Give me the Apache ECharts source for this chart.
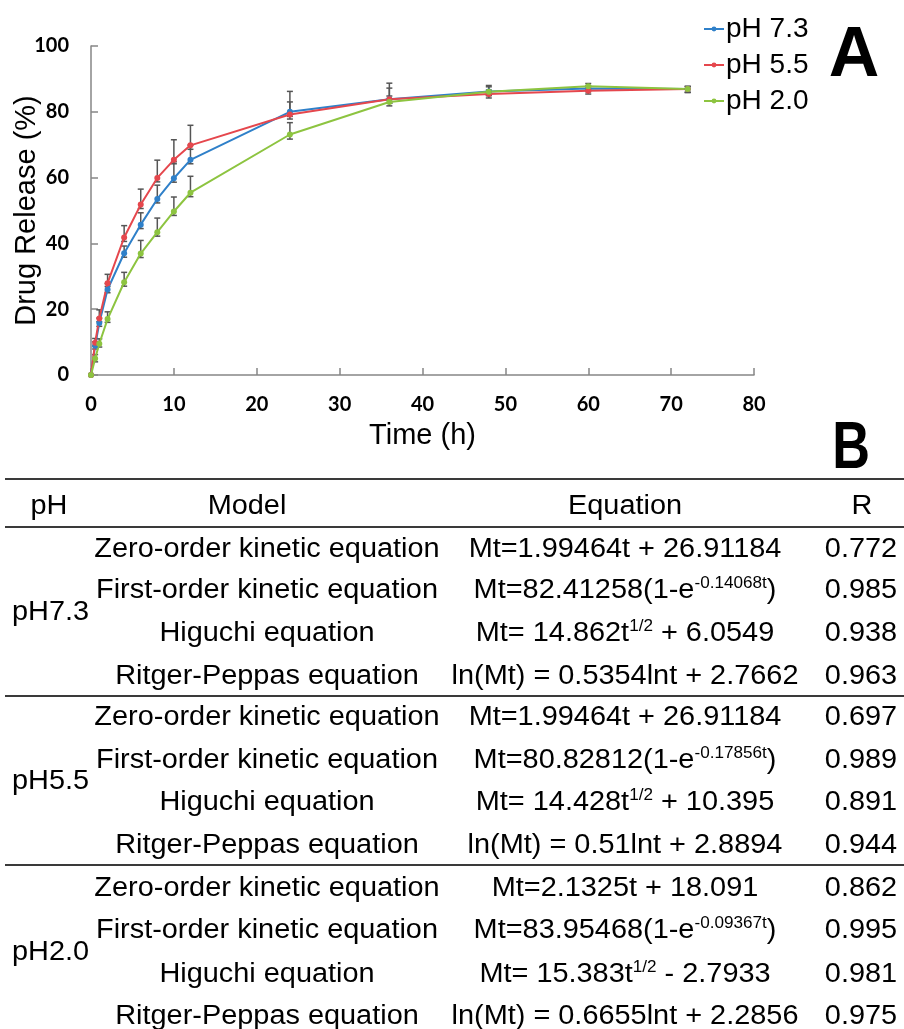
<!DOCTYPE html>
<html lang="en">
<head>
    <meta charset="UTF-8">
    <title>Drug Release</title>
    <script src="https://cdn.jsdelivr.net/npm/echarts@6/dist/echarts.min.js" type="text/javascript"></script>
    <style>
        body { margin: 0; background: #fff; }
    </style>
</head>
<body>
<div id="release" style="width: 904px;height:1029px;"></div>
</body>

<script type="text/javascript">
    // release data
    var times = [0, 0.5, 1, 2, 4, 6, 8, 10, 12, 24, 36, 48, 60, 72];
    var pH73 = [0, 8.9, 15.8, 26.0, 37.0, 45.7, 53.5, 59.8, 65.4, 80.0, 83.8, 86.2, 87.1, 86.9];
    var pH55 = [0, 9.8, 17.2, 27.9, 41.8, 51.8, 59.9, 65.4, 69.8, 79.2, 83.8, 85.4, 86.4, 86.9];
    var pH20 = [0, 5.0, 9.5, 17.0, 28.2, 36.9, 43.4, 49.7, 55.4, 73.1, 83.0, 86.1, 87.8, 86.9];
    var errUp73 = [0, 1.2, 1.5, 1.8, 2.2, 3.6, 4.2, 5.0, 4.5, 3.0, 3.4, 1.8, 0.8, 0.8];
    var errUp55 = [0, 1.3, 2.6, 2.7, 3.6, 4.7, 5.4, 6.1, 6.1, 7.0, 4.9, 1.2, 0.8, 0.8];
    var errUp20 = [0, 1.2, 1.5, 2.2, 3.0, 4.0, 4.3, 4.4, 5.0, 3.6, 1.8, 1.5, 0.8, 0.8];
    var errDown = [0, 1.0, 1.0, 1.0, 1.2, 1.2, 1.2, 1.2, 1.2, 1.4, 1.2, 1.2, 1.0, 1.0];
    var seriesNames = ['pH 7.3', 'pH 5.5', 'pH 2.0'];
    var colors = ['#2f80c9', '#e5474d', '#8dc440'];
    var xTicks = [0, 10, 20, 30, 40, 50, 60, 70, 80];
    var yTicks = [0, 20, 40, 60, 80, 100];

    // table B
    var tableHeader = ['pH', 'Model', 'Equation', 'R'];
    var groups = ['pH7.3', 'pH5.5', 'pH2.0'];
    var models = ['Zero-order kinetic equation', 'First-order kinetic equation', 'Higuchi equation', 'Ritger-Peppas equation'];
    var equations = [
        ['Mt=1.99464t + 26.91184', '{m|Mt=82.41258(1-e}{s|-0.14068t}{m|)}', '{m|Mt= 14.862t}{s|1/2}{m| + 6.0549}', 'ln(Mt) = 0.5354lnt + 2.7662'],
        ['Mt=1.99464t + 26.91184', '{m|Mt=80.82812(1-e}{s|-0.17856t}{m|)}', '{m|Mt= 14.428t}{s|1/2}{m| + 10.395}', 'ln(Mt) = 0.51lnt + 2.8894'],
        ['Mt=2.1325t + 18.091', '{m|Mt=83.95468(1-e}{s|-0.09367t}{m|)}', '{m|Mt= 15.383t}{s|1/2}{m| - 2.7933}', 'ln(Mt) = 0.6655lnt + 2.2856']
    ];
    var rValues = [
        ['0.772', '0.985', '0.938', '0.963'],
        ['0.697', '0.989', '0.891', '0.944'],
        ['0.862', '0.995', '0.981', '0.975']
    ];

    var chart = echarts.init(document.getElementById('release'));
    var font = '"Liberation Sans", Arial, sans-serif';

    function pairs(vals) {
        return times.map(function (t, i) { return [t, vals[i]]; });
    }
    function errData(vals, up) {
        return times.map(function (t, i) { return [t, vals[i] - errDown[i], vals[i] + up[i]]; });
    }
    function renderErr(params, api) {
        var top = api.coord([api.value(0), api.value(2)]);
        var bot = api.coord([api.value(0), api.value(1)]);
        var st = { stroke: '#555', lineWidth: 1.5 };
        return {
            type: 'group',
            children: [
                { type: 'line', shape: { x1: top[0], y1: top[1], x2: bot[0], y2: bot[1] }, style: st },
                { type: 'line', shape: { x1: top[0] - 3, y1: top[1], x2: top[0] + 3, y2: top[1] }, style: st },
                { type: 'line', shape: { x1: bot[0] - 3, y1: bot[1], x2: bot[0] + 3, y2: bot[1] }, style: st }
            ]
        };
    }

    // table graphics
    var tx = { pH: 12, model: 267, eq: 625, r: 861 };
    var rowY = [[549.5, 591, 633.5, 677], [717.5, 761, 803, 846], [889, 931, 975, 1017]];
    var lineY = [479, 527, 696, 865];
    var tFont = 27, sx = 1.07;
    var graphics = [];
    function txt(x, y, s, align, extra) {
        var style = { text: s, x: 0, y: 0, fill: '#000', font: tFont + 'px ' + font, align: align || 'center', verticalAlign: 'middle' };
        if (extra) { for (var k in extra) style[k] = extra[k]; }
        graphics.push({ type: 'text', x: x, y: y, scaleX: sx, style: style });
    }
    lineY.forEach(function (y) {
        graphics.push({ type: 'line', shape: { x1: 5, y1: y, x2: 904, y2: y }, style: { stroke: '#3a3a3a', lineWidth: 2 } });
    });
    txt(49, 507, tableHeader[0]);
    txt(tx.model - 20, 507, tableHeader[1]);
    txt(tx.eq, 507, tableHeader[2]);
    txt(862, 507, tableHeader[3]);
    var rich = {
        m: { fontSize: tFont, fontFamily: font, fill: '#000', lineHeight: 30 },
        s: { fontSize: 16, fontFamily: font, fill: '#000', lineHeight: 16, verticalAlign: 'top' }
    };
    groups.forEach(function (g, gi) {
        txt(tx.pH, (rowY[gi][1] + rowY[gi][2]) / 2, g, 'left');
        models.forEach(function (m, mi) {
            var y = rowY[gi][mi];
            txt(tx.model, y, m);
            var eq = equations[gi][mi];
            if (eq.charAt(0) === '{') {
                txt(tx.eq, y, eq, 'center', { rich: rich });
            } else {
                txt(tx.eq, y, eq);
            }
            txt(tx.r, y, rValues[gi][mi]);
        });
    });
    graphics.push({ type: 'text', x: 854, y: 57, style: { text: 'A', x: 0, y: 0, fill: '#000', font: 'bold 70px ' + font, align: 'center', verticalAlign: 'middle' } });
    graphics.push({ type: 'text', x: 851, y: 450, scaleX: 0.78, style: { text: 'B', x: 0, y: 0, fill: '#000', font: 'bold 67px ' + font, align: 'center', verticalAlign: 'middle' } });

    var axisFont = { fontFamily: 'Lato, sans-serif', fontWeight: 'bold', fontSize: 20, color: '#000' };
    var vals = [pH73, pH55, pH20];
    var ups = [errUp73, errUp55, errUp20];
    var series = [];
    vals.forEach(function (v, i) {
        series.push({
            type: 'custom', renderItem: renderErr, data: errData(v, ups[i]),
            encode: { x: 0, y: [1, 2] }, z: 1, silent: true
        });
    });
    vals.forEach(function (v, i) {
        series.push({
            name: seriesNames[i], type: 'line', data: pairs(v), z: 3,
            symbol: 'circle', symbolSize: 6, showAllSymbol: true,
            itemStyle: { color: colors[i] }, lineStyle: { color: colors[i], width: 2 }
        });
    });

    chart.setOption({
        animation: false,
        color: colors,
        legend: {
            data: seriesNames, orient: 'vertical', left: 703, top: 15, padding: 0,
            itemWidth: 20, itemHeight: 6, itemGap: 8,
            textStyle: { fontFamily: font, fontSize: 28, color: '#000', padding: [0, 0, 0, -3] }
        },
        grid: { left: 91, right: 150, top: 46, bottom: 654, outerBoundsMode: 'none' },
        xAxis: {
            type: 'value', min: xTicks[0], max: xTicks[xTicks.length - 1], interval: 10,
            name: 'Time (h)', nameLocation: 'middle', nameGap: 46, nameMoveOverlap: false,
            nameTextStyle: { fontFamily: font, fontSize: 29, color: '#000' },
            axisLine: { lineStyle: { color: '#868686', width: 1.5 } },
            axisTick: { inside: true, length: 7, lineStyle: { color: '#868686', width: 1.5 } },
            axisLabel: Object.assign({ margin: 20 }, axisFont),
            splitLine: { show: false }
        },
        yAxis: {
            type: 'value', min: yTicks[0], max: yTicks[yTicks.length - 1], interval: 20,
            name: 'Drug Release (%)', nameLocation: 'middle', nameGap: 50, nameMoveOverlap: false,
            nameTextStyle: { fontFamily: font, fontSize: 29, color: '#000' },
            axisLine: { show: true, lineStyle: { color: '#868686', width: 1.5 } },
            axisTick: { show: true, inside: true, length: 7, lineStyle: { color: '#868686', width: 1.5 } },
            axisLabel: Object.assign({ margin: 22 }, axisFont),
            splitLine: { show: false }
        },
        graphic: graphics,
        series: series
    });
</script>
</html>
